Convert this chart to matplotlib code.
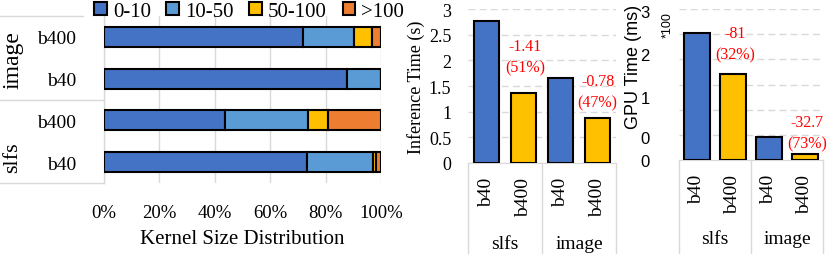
import matplotlib
matplotlib.use('Agg')
import matplotlib.pyplot as plt
from matplotlib.patches import Patch
import numpy as np

plt.rcParams['font.family'] = ['Liberation Serif', 'DejaVu Serif']

# kernel size distribution (%), rows top to bottom
rows = ['b400', 'b40', 'b400', 'b40']
groups = ['image', 'slfs']
bins = ['0-10', '10-50', '50-100', '>100']
dist = np.array([
    [71.7, 18.7, 6.5, 3.1],   # image b400
    [87.6, 12.4, 0.0, 0.0],   # image b40
    [43.7, 30.0, 7.0, 19.3],  # slfs b400
    [73.4, 23.8, 1.0, 1.8],   # slfs b40
])

cats = ['b40', 'b400', 'b40', 'b400']
bench = ['slfs', 'image']
infer_time = [2.77, 1.36, 1.65, 0.87]
infer_notes = ['-1.41\n(51%)', '-0.78\n(47%)']
gpu_time = [252, 171, 44.8, 12.1]
gpu_notes = ['-81\n(32%)', '-32.7\n(73%)']

colors = ['#4472C4', '#5B9BD5', '#FFC000', '#ED7D31']
bar_colors = ['#4472C4', '#FFC000', '#4472C4', '#FFC000']
light = '#d9d9d9'

W, H = 830, 255
fig = plt.figure(figsize=(W / 100, H / 100), dpi=100)


def box(x0, y0, x1, y1):
    return [x0 / W, 1 - y1 / H, (x1 - x0) / W, (y1 - y0) / H]


# ---- left: stacked horizontal bars
ax = fig.add_axes(box(104, 17, 381, 184))
y = np.arange(len(rows))
left = np.zeros(len(rows))
for j in range(len(bins)):
    ax.barh(y, dist[:, j], left=left, height=0.48, color=colors[j],
            edgecolor='black', linewidth=1.5, label=bins[j], zorder=3)
    left += dist[:, j]
ax.set_xlim(0, 100)
ax.set_ylim(len(rows) - 0.5, -0.5)
ax.set_xticks(np.arange(0, 101, 20))
ax.set_xticklabels(['%d%%' % v for v in range(0, 101, 20)], fontsize=13.5)
ax.set_yticks(y)
ax.set_yticklabels(rows, fontsize=14)
ax.tick_params(length=0)
ax.tick_params(axis='x', pad=15)
ax.tick_params(axis='y', pad=20)
ax.grid(axis='x', color=light, linewidth=1, zorder=0)
for s in ax.spines.values():
    s.set_visible(False)
ax.set_xlabel('Kernel Size Distribution', fontsize=15, labelpad=6)
tr = ax.transAxes
ax.plot([0, 0], [0, 1], color=light, lw=1, transform=tr, clip_on=False)
ax.plot([-0.38, -0.075], [1, 1], color=light, lw=1, transform=tr, clip_on=False)
ax.plot([-0.38, 0], [0.5, 0.5], color=light, lw=1, transform=tr, clip_on=False)
ax.plot([-0.38, 0], [0, 0], color=light, lw=1, transform=tr, clip_on=False)
ax.text(-0.33, 0.74, groups[0], rotation=90, ha='center', va='center',
        fontsize=17, transform=tr)
ax.text(-0.33, 0.16, groups[1], rotation=90, ha='center', va='center',
        fontsize=16, transform=tr)

handles = [Patch(facecolor=c, edgecolor='black', linewidth=1.5) for c in colors]
fig.legend(handles, bins, loc='upper left', bbox_to_anchor=(94 / W, 0.99),
           ncol=4, frameon=False, fontsize=15, handlelength=0.6,
           handleheight=0.6, handletextpad=0.3, columnspacing=0.75,
           borderpad=0.0, borderaxespad=0)


def bar_panel(rect, vals, ymax, notes, note_xy):
    a = fig.add_axes(rect)
    x = np.arange(len(vals))
    a.bar(x, vals, width=0.7, color=bar_colors, edgecolor='black',
          linewidth=1.5, zorder=3)
    a.set_xlim(-0.5, len(vals) - 0.5)
    a.set_ylim(0, ymax)
    a.set_xticks([])
    for s in ['top', 'right', 'left']:
        a.spines[s].set_visible(False)
    a.spines['bottom'].set_color(light)
    a.tick_params(axis='y', length=0)
    t = a.get_xaxis_transform()
    for xv in [-0.5, 1.5, 3.5]:
        a.plot([xv, xv], [0, -1.0], color=light, lw=1, transform=t, clip_on=False)
    for i, c in enumerate(cats):
        a.text(i, -0.09, c, rotation=90, ha='center', va='top', fontsize=14,
               transform=t)
    for k, b in enumerate(bench):
        a.text(0.5 + 2 * k, -0.52, b, ha='center', va='center', fontsize=14,
               transform=t)
    for txt, (nx, ny) in zip(notes, note_xy):
        a.text(nx, ny, txt, color='red', ha='center', va='center',
               fontsize=11.5, linespacing=1.45)
    return a


# ---- middle: inference time
ax2 = bar_panel(box(468, 10, 616, 164), infer_time, 3,
                infer_notes, [(1.04, 2.08), (3.0, 1.38)])
ax2.set_yticks(np.arange(0, 3.01, 0.5))
ax2.set_yticklabels(['0', '0.5', '1', '1.5', '2', '2.5', '3'], fontsize=13)
ax2.tick_params(axis='y', pad=12)
ax2.grid(axis='y', color=light, linestyle=(0, (5, 3)), linewidth=1, zorder=0)
ax2.set_ylabel('Inference Time (s)', fontsize=13, labelpad=3)

# ---- right: GPU time
ax3 = bar_panel(box(679, 10, 823, 161), gpu_time, 300,
                gpu_notes, [(1.05, 232), (3.05, 54)])
for v in np.arange(50, 301, 50):
    ax3.axhline(v, color=light, linestyle=(0, (5, 3)), linewidth=1, zorder=0)
ax3.set_yticks([0, 46, 126, 210, 296])
ax3.set_yticklabels(['0', '0', '1', '2', '3'], fontsize=12,
                    family='Liberation Sans')
ax3.tick_params(axis='y', pad=21)
ax3.set_ylabel('GPU Time (ms)', fontsize=13, family='Liberation Sans')
ax3.yaxis.set_label_coords(-0.26, 0.62)
ax3.text(-0.08, 0.9, '*100', rotation=90, ha='center', va='center',
         fontsize=9, family='Liberation Sans', transform=ax3.transAxes)

fig.savefig('out.png', dpi=100)
